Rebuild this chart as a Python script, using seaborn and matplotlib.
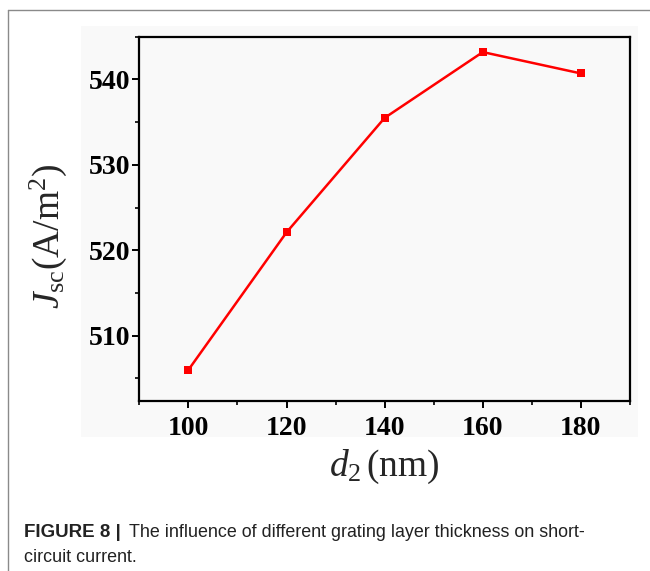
import numpy as np
import pandas as pd
import matplotlib
matplotlib.use("Agg")
import matplotlib.pyplot as plt
from matplotlib.lines import Line2D
from matplotlib.patches import Rectangle
from matplotlib.ticker import MultipleLocator
import seaborn as sns

# ---- data ----
thickness_nm = [100, 120, 140, 160, 180]
jsc_values = [506.0, 522.1, 535.5, 543.2, 540.7]
x_ticks = [100, 120, 140, 160, 180]
y_ticks = [510, 520, 530, 540]

x_label = r"$d_2\,$(nm)"
y_label = r"$J_{\mathrm{sc}}$(A/m$^2$)"
caption_bold = "FIGURE 8 |"
caption_line1 = "The influence of different grating layer thickness on short-"
caption_line2 = "circuit current."

sns.set_style("ticks")
plt.rcParams["font.family"] = ["Liberation Serif", "DejaVu Serif"]
plt.rcParams["mathtext.fontset"] = "custom"
plt.rcParams["mathtext.rm"] = "Liberation Serif"
plt.rcParams["mathtext.it"] = "Liberation Serif:italic"
plt.rcParams["mathtext.bf"] = "Liberation Serif:bold"

fig = plt.figure(figsize=(6.5, 5.71), dpi=100)
W, H = 650.0, 571.0

def fx(px):
    return px / W

def fy(py):
    return 1 - py / H

# light panel behind the chart
fig.patches.append(Rectangle((fx(81), fy(437)), fx(638) - fx(81), fy(26) - fy(437),
                             transform=fig.transFigure, facecolor="#f9f9f9",
                             edgecolor="none", zorder=-5))
# outer frame lines (top and left)
fig.lines.append(Line2D([fx(8), 1.0], [fy(10), fy(10)], transform=fig.transFigure,
                        color="#8a8a8a", lw=1.0, zorder=-4))
fig.lines.append(Line2D([fx(8), fx(8)], [fy(10), 0.0], transform=fig.transFigure,
                        color="#8a8a8a", lw=1.0, zorder=-4))

ax = fig.add_axes([fx(139.3), fy(400.7), fx(630) - fx(139.3), fy(36.7) - fy(400.7)])
ax.set_zorder(2)
ax.set_facecolor("#f9f9f9")

df = pd.DataFrame({"d2": thickness_nm, "jsc": jsc_values})
sns.lineplot(data=df, x="d2", y="jsc", ax=ax, color="#ff0000", linewidth=1.8,
             marker="s", markersize=5.5, markeredgewidth=0, markerfacecolor="#ff0000")

ax.set_xlim(90, 190)
ax.set_ylim(502.4, 545.0)
ax.set_xticks(x_ticks)
ax.set_yticks(y_ticks)
ax.xaxis.set_minor_locator(MultipleLocator(10))
ax.yaxis.set_minor_locator(MultipleLocator(5))

for s in ax.spines.values():
    s.set_visible(True)
    s.set_color("black")
    s.set_linewidth(1.6)

ax.tick_params(axis="both", which="major", direction="out", length=5, width=1.4,
               color="black", labelsize=20, labelcolor="black")
ax.tick_params(axis="both", which="minor", direction="out", length=3, width=1.2, color="black")
ax.tick_params(axis="y", which="major", pad=1.5)
ax.tick_params(axis="x", which="major", pad=6)
ax.tick_params(top=False, right=False, which="both")
for lab in ax.get_xticklabels() + ax.get_yticklabels():
    lab.set_fontweight("bold")

ax.set_xlabel(x_label, fontsize=27, va="center")
ax.xaxis.set_label_coords(0.5, -0.182)
ax.set_ylabel(y_label, fontsize=27, va="center")
ax.yaxis.set_label_coords(-0.186, 0.451)

sans = ["Liberation Sans", "DejaVu Sans"]
fig.text(fx(24), fy(537), caption_bold, fontsize=13.5, fontweight="bold",
         family=sans, color="#222222", va="baseline", ha="left")
fig.text(fx(129), fy(537), caption_line1, fontsize=12.9,
         family=sans, color="#222222", va="baseline", ha="left")
fig.text(fx(24), fy(562), caption_line2, fontsize=12.9,
         family=sans, color="#222222", va="baseline", ha="left")

fig.savefig("out.png", dpi=100, facecolor="white")
